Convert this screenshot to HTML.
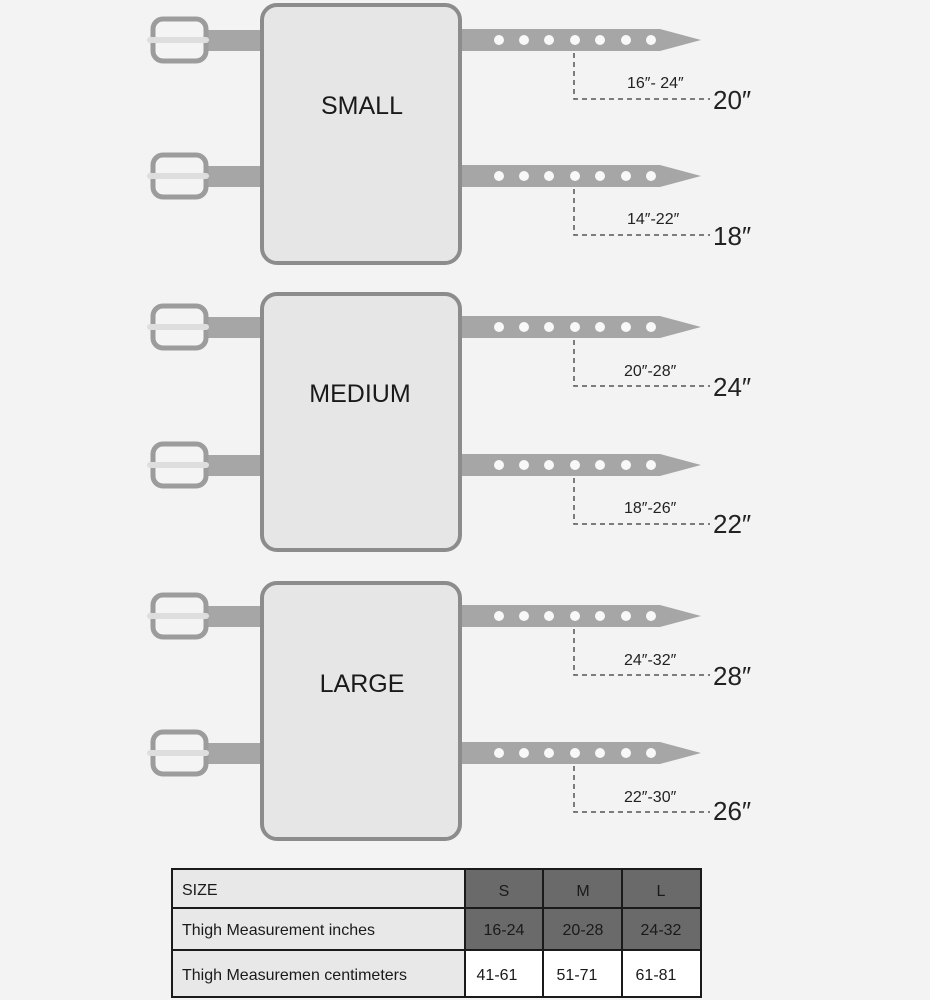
<!DOCTYPE html>
<html><head><meta charset="utf-8"><style>
html,body{margin:0;padding:0;background:#f3f3f3;}
svg{display:block;}
text{font-family:"Liberation Sans",sans-serif;}
</style></head><body>
<svg width="930" height="1000" viewBox="0 0 930 1000" xmlns="http://www.w3.org/2000/svg">
<rect width="930" height="1000" fill="#f3f3f3"/>
<defs>
<g id="lstrap">
  <rect x="190" y="-10" width="75" height="21" fill="#a6a6a6"/>
  <rect x="153" y="-21" width="53" height="42" rx="10" fill="#f4f4f4" stroke="#9c9c9c" stroke-width="5"/>
  <rect x="147" y="-3" width="62" height="6" rx="3" fill="#dedede"/>
</g>
<g id="rstrap">
  <path d="M458,-11 L660,-11 L701,0 L660,11 L458,11 Z" fill="#a6a6a6"/>
  <g fill="#f8f8f8">
  <circle cx="499" cy="0" r="5"/><circle cx="524" cy="0" r="5"/><circle cx="549" cy="0" r="5"/>
  <circle cx="575" cy="0" r="5"/><circle cx="600" cy="0" r="5"/><circle cx="626" cy="0" r="5"/>
  <circle cx="651" cy="0" r="5"/></g>
  <path d="M574,13 L574,59 L710,59" fill="none" stroke="#555" stroke-width="1.5" stroke-dasharray="5,4"/>
</g>
</defs>

<!-- SMALL -->
<use href="#lstrap" y="40"/><use href="#lstrap" y="176"/>
<use href="#rstrap" y="40"/><use href="#rstrap" y="176"/>
<rect x="262" y="5" width="198" height="258" rx="15" fill="#e6e6e6" stroke="#8c8c8c" stroke-width="4"/>
<text x="362" y="114" font-size="25" text-anchor="middle" fill="#1a1a1a">SMALL</text>
<text x="627" y="88" font-size="16" fill="#222">16″- 24″</text>
<text x="713" y="109" font-size="26" fill="#222">20″</text>
<text x="627" y="224" font-size="16" fill="#222">14″-22″</text>
<text x="713" y="245" font-size="26" fill="#222">18″</text>

<!-- MEDIUM -->
<use href="#lstrap" y="327"/><use href="#lstrap" y="465"/>
<use href="#rstrap" y="327"/><use href="#rstrap" y="465"/>
<rect x="262" y="294" width="198" height="256" rx="15" fill="#e6e6e6" stroke="#8c8c8c" stroke-width="4"/>
<text x="360" y="402" font-size="25" text-anchor="middle" fill="#1a1a1a">MEDIUM</text>
<text x="624" y="376" font-size="16" fill="#222">20″-28″</text>
<text x="713" y="396" font-size="26" fill="#222">24″</text>
<text x="624" y="513" font-size="16" fill="#222">18″-26″</text>
<text x="713" y="533" font-size="26" fill="#222">22″</text>

<!-- LARGE -->
<use href="#lstrap" y="616"/><use href="#lstrap" y="753"/>
<use href="#rstrap" y="616"/><use href="#rstrap" y="753"/>
<rect x="262" y="583" width="198" height="256" rx="15" fill="#e6e6e6" stroke="#8c8c8c" stroke-width="4"/>
<text x="362" y="692" font-size="25" text-anchor="middle" fill="#1a1a1a">LARGE</text>
<text x="624" y="665" font-size="16" fill="#222">24″-32″</text>
<text x="713" y="685" font-size="26" fill="#222">28″</text>
<text x="624" y="802" font-size="16" fill="#222">22″-30″</text>
<text x="713" y="820" font-size="26" fill="#222">26″</text>

<!-- TABLE -->
<g stroke="#1a1a1a" stroke-width="2">
<rect x="172" y="869" width="293" height="39" fill="#e8e8e8"/>
<rect x="172" y="908" width="293" height="42" fill="#e8e8e8"/>
<rect x="172" y="950" width="293" height="47" fill="#e8e8e8"/>
<rect x="465" y="869" width="78" height="39" fill="#6a6a6a"/>
<rect x="543" y="869" width="79" height="39" fill="#6a6a6a"/>
<rect x="622" y="869" width="79" height="39" fill="#6a6a6a"/>
<rect x="465" y="908" width="78" height="42" fill="#6a6a6a"/>
<rect x="543" y="908" width="79" height="42" fill="#6a6a6a"/>
<rect x="622" y="908" width="79" height="42" fill="#6a6a6a"/>
<rect x="465" y="950" width="78" height="47" fill="#ffffff"/>
<rect x="543" y="950" width="79" height="47" fill="#ffffff"/>
<rect x="622" y="950" width="79" height="47" fill="#ffffff"/>
</g>
<g font-size="16" fill="#1a1a1a">
<text x="182" y="895">SIZE</text>
<text x="182" y="935">Thigh Measurement inches</text>
<text x="182" y="980">Thigh Measuremen centimeters</text>
<text x="504" y="896" text-anchor="middle">S</text>
<text x="583" y="896" text-anchor="middle">M</text>
<text x="661" y="896" text-anchor="middle">L</text>
<text x="504" y="935" text-anchor="middle">16-24</text>
<text x="583" y="935" text-anchor="middle">20-28</text>
<text x="661" y="935" text-anchor="middle">24-32</text>
<text x="497" y="980" text-anchor="middle">41-61</text>
<text x="577" y="980" text-anchor="middle">51-71</text>
<text x="656" y="980" text-anchor="middle">61-81</text>
</g>
</svg>
</body></html>
